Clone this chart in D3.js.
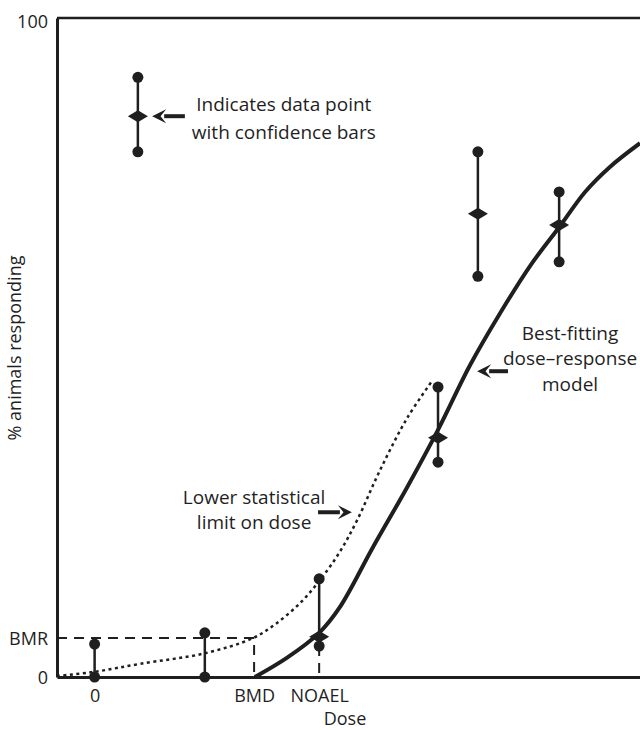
<!DOCTYPE html>
<html>
<head>
<meta charset="utf-8">
<script src="https://cdn.jsdelivr.net/npm/d3@7"></script>
<style>
  body { margin: 0; background: #fff; }
  svg { display: block; font-family: "Open Sans", sans-serif; }
</style>
</head>
<body>
<svg width="640" height="730"></svg>
<script>
// dose-response / benchmark dose chart

// data points with confidence bars (dose in arbitrary units, response in %)
var doses   = [0, 2.93, 5.97, 9.13, 10.19, 12.35];
var means   = [null, null, 6.1, 36.3, 70.3, 68.6];
var lowerCI = [0, 0, 4.7, 32.6, 60.8, 63.0];
var upperCI = [5.0, 6.7, 14.9, 44.0, 79.7, 73.6];

// legend sample point
var legendDose = 1.15;
var legendCI = [79.7, 85.1, 91.0]; // low, mean, high

// best fitting model curve
var fitDose = [4.26, 5.11, 5.97, 6.52, 7.40, 8.31, 9.13, 9.98, 10.78, 11.58, 12.37, 13.04, 13.70, 14.50];
var fitResp = [0, 2.9, 6.7, 10.6, 19.7, 28.8, 37.5, 47.3, 55.2, 62.4, 68.4, 73.6, 77.4, 81.0];

// lower statistical limit curve
var bmdlDose = [-1.0, 0.01, 1.21, 2.93, 4.21, 4.80, 5.46, 5.99, 6.52, 6.98, 7.59, 8.31, 8.97];
var bmdlResp = [0.15, 0.8, 2.0, 3.6, 5.9, 8.0, 11.2, 14.7, 19.0, 23.8, 31.4, 39.3, 44.9];

var bmr = 5.9;
var bmd = 4.24;
var noael = 5.97;

var yTickValues = [0, bmr, 100];
var yTickLabels = ['0', 'BMR', '100'];
var xTickValues = [0, bmd, noael];
var xTickLabels = ['0', 'BMD', 'NOAEL'];

var svg = d3.select('svg');
var ink = '#1f1f1f';

var x = d3.scaleLinear().domain([-1, 14.5]).range([57, 640]);
var y = d3.scaleLinear().domain([0, 100]).range([677, 18]);

// top border
svg.append('line')
    .attr('x1', x(-1)).attr('x2', x(14.5))
    .attr('y1', y(100)).attr('y2', y(100))
    .attr('stroke', ink).attr('stroke-width', 2.5);

// axes
var yAxis = svg.append('g')
    .attr('transform', 'translate(' + x(-1) + ',0)')
    .call(d3.axisLeft(y).tickValues(yTickValues)
        .tickFormat(function (d, i) { return yTickLabels[i]; })
        .tickSize(0).tickPadding(9));

var xAxis = svg.append('g')
    .attr('transform', 'translate(0,' + y(0) + ')')
    .call(d3.axisBottom(x).tickValues(xTickValues)
        .tickFormat(function (d, i) { return xTickLabels[i]; })
        .tickSize(0).tickPadding(12));

[yAxis, xAxis].forEach(function (g) {
    g.attr('font-family', null).attr('font-size', null);
    g.select('.domain').attr('stroke', ink).attr('stroke-width', 3);
    g.selectAll('text').attr('fill', ink).style('font-size', '18px');
});
yAxis.selectAll('text').attr('dy', function (d) { return d === 100 ? '0.55em' : '0.38em'; });

// axis titles
svg.append('text')
    .attr('transform', 'translate(21,' + 348 + ') rotate(-90)')
    .attr('text-anchor', 'middle')
    .attr('fill', ink)
    .style('font-size', '18px')
    .text('% animals responding');

svg.append('text')
    .attr('x', 345).attr('y', 725)
    .attr('text-anchor', 'middle')
    .attr('fill', ink)
    .style('font-size', '18px')
    .text('Dose');

// BMR / BMD / NOAEL dashed guides
var dashed = [
    [[-1, bmr], [bmd, bmr], [bmd, 0]],
    [[noael, lowerCI[2]], [noael, 0]]
];
svg.selectAll('.guide')
    .data(dashed)
    .enter().append('path')
    .attr('class', 'guide')
    .attr('d', d3.line().x(function (d) { return x(d[0]); }).y(function (d) { return y(d[1]); }))
    .attr('fill', 'none')
    .attr('stroke', ink)
    .attr('stroke-width', 2)
    .attr('stroke-dasharray', '10,7');

// lower statistical limit (dotted)
var curve = d3.line()
    .x(function (d) { return x(d[0]); })
    .y(function (d) { return y(d[1]); })
    .curve(d3.curveCatmullRom.alpha(0.5));

svg.append('path')
    .datum(bmdlDose.map(function (d, i) { return [d, bmdlResp[i]]; }))
    .attr('d', curve)
    .attr('fill', 'none')
    .attr('stroke', ink)
    .attr('stroke-width', 2.5)
    .attr('stroke-dasharray', '3,3.5');

// best-fitting model (solid)
svg.append('path')
    .datum(fitDose.map(function (d, i) { return [d, fitResp[i]]; }))
    .attr('d', curve)
    .attr('fill', 'none')
    .attr('stroke', ink)
    .attr('stroke-width', 4);

// data points with confidence bars
var points = doses.map(function (d, i) {
    return { dose: d, mean: means[i], lo: lowerCI[i], hi: upperCI[i] };
});
points.push({ dose: legendDose, mean: legendCI[1], lo: legendCI[0], hi: legendCI[2] });

var pg = svg.selectAll('.pt')
    .data(points)
    .enter().append('g')
    .attr('class', 'pt');

pg.append('line')
    .attr('x1', function (d) { return x(d.dose); })
    .attr('x2', function (d) { return x(d.dose); })
    .attr('y1', function (d) { return y(d.lo); })
    .attr('y2', function (d) { return y(d.hi); })
    .attr('stroke', ink).attr('stroke-width', 2.5);

pg.selectAll('circle')
    .data(function (d) { return [{ dose: d.dose, v: d.lo }, { dose: d.dose, v: d.hi }]; })
    .enter().append('circle')
    .attr('cx', function (d) { return x(d.dose); })
    .attr('cy', function (d) { return y(d.v); })
    .attr('r', 5.5)
    .attr('fill', ink);

pg.filter(function (d) { return d.mean != null; })
    .append('path')
    .attr('transform', function (d) { return 'translate(' + x(d.dose) + ',' + y(d.mean) + ')'; })
    .attr('d', 'M-10,0L0,-6L10,0L0,6Z')
    .attr('fill', ink);

// annotations: text lines and arrows, anchored in data space
var noteText = [
    { dose: 5.03, resp: 86.9, text: 'Indicates data point' },
    { dose: 5.03, resp: 82.7, text: 'with confidence bars' },
    { dose: 4.24, resp: 27.3, text: 'Lower statistical' },
    { dose: 4.24, resp: 23.5, text: 'limit on dose' },
    { dose: 12.64, resp: 52.2, text: 'Best-fitting' },
    { dose: 12.64, resp: 48.4, text: 'dose\u2013response' },
    { dose: 12.64, resp: 44.5, text: 'model' }
];
svg.selectAll('.note')
    .data(noteText)
    .enter().append('text')
    .attr('class', 'note')
    .attr('x', function (d) { return x(d.dose); })
    .attr('y', function (d) { return y(d.resp); })
    .attr('dy', '0.36em')
    .attr('text-anchor', 'middle')
    .attr('fill', ink)
    .style('font-size', '19px')
    .text(function (d) { return d.text; });

// arrows: from tail to tip
var arrows = [
    { from: [2.40, 85.1], to: [1.53, 85.1] },
    { from: [5.94, 25.0], to: [6.84, 25.0] },
    { from: [10.99, 46.4], to: [10.17, 46.4] }
];
arrows.forEach(function (a) {
    var x0 = x(a.from[0]), y0 = y(a.from[1]);
    var x1 = x(a.to[0]), y1 = y(a.to[1]);
    var dir = x1 > x0 ? 1 : -1;
    var head = 12;
    svg.append('line')
        .attr('x1', x0).attr('y1', y0)
        .attr('x2', x1 - dir * head).attr('y2', y1)
        .attr('stroke', ink).attr('stroke-width', 4);
    svg.append('path')
        .attr('d', 'M' + x1 + ',' + y1 +
            'L' + (x1 - dir * (head + 2)) + ',' + (y1 - 7) +
            'L' + (x1 - dir * head * 0.7) + ',' + y1 +
            'L' + (x1 - dir * (head + 2)) + ',' + (y1 + 7) + 'Z')
        .attr('fill', ink);
});
</script>
</body>
</html>
